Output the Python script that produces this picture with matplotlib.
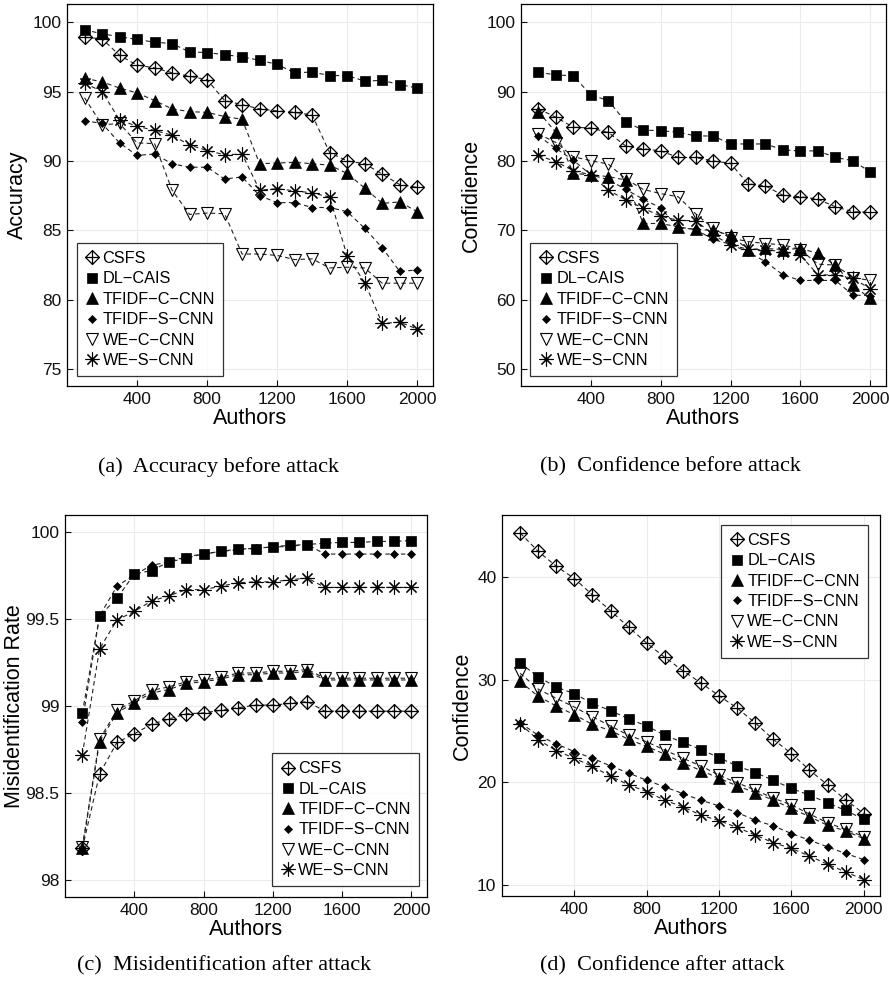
import matplotlib

matplotlib.use("Agg")

import matplotlib.pyplot as plt
import numpy as np
from matplotlib.lines import Line2D
from matplotlib.path import Path

# ---- data ----
authors = np.arange(100, 2001, 100)
series_names = ["CSFS", "DL\u2212CAIS", "TFIDF\u2212C\u2212CNN", "TFIDF\u2212S\u2212CNN",
                "WE\u2212C\u2212CNN", "WE\u2212S\u2212CNN"]

# (a) accuracy before attack
csfs_a = [98.9, 98.8, 97.6, 96.9, 96.7, 96.35, 96.1, 95.85, 94.35, 94.05,
          93.75, 93.6, 93.5, 93.3, 90.6, 90.0, 89.8, 89.05, 88.3, 88.1]
dl_a = [99.45, 99.15, 98.95, 98.75, 98.55, 98.45, 97.85, 97.8, 97.65, 97.5,
        97.25, 96.95, 96.35, 96.4, 96.15, 96.15, 95.75, 95.8, 95.5, 95.25]
tc_a = [95.95, 95.7, 95.25, 94.9, 94.35, 93.75, 93.55, 93.5, 93.2, 93.0,
        89.8, 89.85, 89.9, 89.8, 89.7, 89.1, 88.05, 86.95, 87.05, 86.35]
ts_a = [92.9, 92.7, 91.3, 90.4, 90.5, 89.8, 89.55, 89.55, 88.7, 88.85,
        87.5, 87.0, 87.0, 86.65, 86.65, 86.35, 85.15, 83.75, 82.05, 82.15]
wc_a = [94.55, 92.6, 92.7, 91.3, 91.25, 87.9, 86.15, 86.25, 86.2, 83.3,
        83.3, 83.2, 82.9, 82.95, 82.3, 82.35, 82.3, 81.2, 81.2, 81.2]
ws_a = [95.6, 95.0, 92.95, 92.5, 92.2, 91.85, 91.15, 90.75, 90.45, 90.5,
        87.9, 88.0, 87.85, 87.7, 87.4, 83.15, 81.25, 78.3, 78.4, 77.9]

# (b) confidence before attack
csfs_b = [87.5, 86.3, 84.85, 84.75, 84.1, 82.15, 81.75, 81.45, 80.5, 80.5,
          80.0, 79.65, 76.7, 76.4, 75.05, 74.85, 74.5, 73.4, 72.7, 72.6]
dl_b = [92.75, 92.4, 92.25, 89.5, 88.7, 85.6, 84.45, 84.35, 84.15, 83.6,
        83.6, 82.45, 82.45, 82.45, 81.6, 81.45, 81.45, 80.5, 80.05, 78.4]
tc_b = [87.1, 84.1, 78.2, 78.0, 77.75, 77.25, 71.0, 71.0, 70.5, 70.15,
        70.0, 69.3, 67.25, 67.4, 67.25, 67.4, 66.7, 65.0, 62.1, 60.2]
ts_b = [83.6, 81.8, 80.1, 78.0, 77.3, 75.9, 74.5, 73.25, 70.4, 70.15,
        68.7, 68.0, 66.9, 65.5, 63.6, 62.8, 62.8, 62.8, 60.7, 60.6]
wc_b = [83.9, 82.65, 80.6, 80.05, 79.55, 77.4, 75.9, 75.3, 74.85, 72.4,
        70.3, 68.9, 68.4, 68.1, 67.95, 67.2, 65.15, 65.0, 63.2, 62.8]
ws_b = [80.8, 79.9, 78.6, 78.0, 75.8, 74.4, 73.2, 72.05, 71.45, 71.4,
        69.4, 67.9, 67.3, 67.2, 66.95, 66.45, 63.6, 63.6, 63.1, 61.6]

# (c) misidentification rate after attack
csfs_c = [98.18, 98.61, 98.79, 98.84, 98.895, 98.925, 98.955, 98.96, 98.975, 98.99,
          99.005, 99.005, 99.015, 99.025, 98.97, 98.97, 98.97, 98.97, 98.97, 98.97]
dl_c = [98.96, 99.52, 99.62, 99.76, 99.78, 99.83, 99.85, 99.877, 99.89, 99.905,
        99.905, 99.918, 99.925, 99.93, 99.938, 99.942, 99.942, 99.948, 99.948, 99.953]
tc_c = [98.18, 98.795, 98.96, 99.02, 99.075, 99.095, 99.13, 99.14, 99.155, 99.18,
        99.18, 99.19, 99.19, 99.2, 99.15, 99.15, 99.15, 99.15, 99.15, 99.15]
ts_c = [98.91, 99.52, 99.69, 99.755, 99.81, 99.83, 99.86, 99.875, 99.89, 99.9,
        99.91, 99.915, 99.92, 99.93, 99.875, 99.875, 99.875, 99.875, 99.875, 99.875]
wc_c = [98.19, 98.81, 98.975, 99.03, 99.09, 99.11, 99.14, 99.15, 99.165, 99.19,
        99.19, 99.2, 99.2, 99.21, 99.16, 99.16, 99.16, 99.16, 99.16, 99.16]
ws_c = [98.72, 99.33, 99.495, 99.545, 99.605, 99.635, 99.67, 99.67, 99.69, 99.71,
        99.715, 99.715, 99.727, 99.737, 99.683, 99.683, 99.683, 99.683, 99.683, 99.683]

# (d) confidence after attack
csfs_d = [44.35, 42.55, 41.1, 39.9, 38.3, 36.75, 35.15, 33.6, 32.2, 30.9,
          29.7, 28.45, 27.25, 25.8, 24.2, 22.8, 21.2, 19.75, 18.3, 16.95]
dl_d = [31.65, 30.3, 29.3, 28.65, 27.7, 27.0, 26.2, 25.5, 24.6, 23.9,
        23.2, 22.4, 21.6, 20.95, 20.2, 19.4, 18.75, 18.0, 17.25, 16.4]
tc_d = [29.85, 28.4, 27.45, 26.6, 25.65, 25.05, 24.2, 23.5, 22.75, 21.9,
        21.15, 20.4, 19.65, 19.0, 18.25, 17.45, 16.65, 15.8, 15.25, 14.5]
ts_d = [25.8, 24.6, 23.75, 23.0, 22.35, 21.6, 20.9, 20.2, 19.55, 18.9,
        18.25, 17.7, 17.05, 16.3, 15.75, 15.0, 14.35, 13.7, 13.05, 12.45]
wc_d = [30.65, 29.1, 28.2, 27.35, 26.4, 25.5, 24.6, 23.95, 23.15, 22.35,
        21.6, 20.7, 19.95, 19.25, 18.45, 17.8, 16.9, 16.05, 15.4, 14.7]
ws_d = [25.7, 24.15, 23.1, 22.35, 21.55, 20.6, 19.75, 19.1, 18.25, 17.6,
        16.8, 16.25, 15.6, 14.85, 14.1, 13.55, 12.8, 12.0, 11.25, 10.5]

# ---- styling ----
plt.rcParams["font.family"] = ["Liberation Sans", "DejaVu Sans"]

# open diamond with a plus inside (CSFS)
diamond_plus = Path(
    [(0, 1), (1, 0), (0, -1), (-1, 0), (0, 1), (0, 1), (0, -1), (-1, 0), (1, 0)],
    [Path.MOVETO, Path.LINETO, Path.LINETO, Path.LINETO, Path.CLOSEPOLY,
     Path.MOVETO, Path.LINETO, Path.MOVETO, Path.LINETO],
)
styles = [
    dict(marker=diamond_plus, ms=10, mfc="none", mew=0.9),
    dict(marker="s", ms=7.5, mfc="k", mew=0.5),
    dict(marker="^", ms=8, mfc="k", mew=0.5),
    dict(marker="D", ms=4.3, mfc="k", mew=0.5),
    dict(marker="v", ms=8.5, mfc="none", mew=0.8),
    dict(marker=(8, 2, 0), ms=10, mfc="k", mew=0.8),
]

W, H = 889, 992
fig = plt.figure(figsize=(W / 100, H / 100), dpi=100)


def px_axes(left, top, right, bottom):
    return fig.add_axes([left / W, 1 - bottom / H, (right - left) / W, (bottom - top) / H])


def draw(ax, series, ylim, yticks, yticklabels, ylabel, leg_loc, leg_anchor, ylpad=3):
    for ys, st in zip(series, styles):
        ax.plot(authors, ys, ls="--", dashes=(4, 3), color="#222222", lw=0.8, zorder=2)
        ax.plot(authors, ys, ls="none", color="k", mec="k", zorder=3, **st)
    ax.set_xlim(0, 2090)
    ax.set_ylim(*ylim)
    ax.set_xticks([400, 800, 1200, 1600, 2000])
    ax.set_yticks(yticks)
    ax.set_yticklabels(yticklabels)
    ax.grid(True, color="#ebebeb", lw=0.8, zorder=0)
    ax.set_axisbelow(True)
    ax.tick_params(direction="in", length=4, width=0.8, labelsize=12.5, pad=4,
                   colors="#111111")
    for sp in ax.spines.values():
        sp.set_linewidth(0.9)
    ax.set_xlabel("Authors", fontsize=15.5, labelpad=1)
    ax.set_ylabel(ylabel, fontsize=15.5, labelpad=ylpad)
    handles = [Line2D([], [], ls="none", color="k", mec="k", **st) for st in styles]
    leg = ax.legend(handles, series_names, loc=leg_loc, bbox_to_anchor=leg_anchor,
                    fontsize=11.7, frameon=True, fancybox=False, edgecolor="k",
                    handlelength=0.9, handletextpad=0.2, labelspacing=0.33,
                    borderpad=0.5, borderaxespad=0)
    leg.get_frame().set_linewidth(0.9)
    leg.set_zorder(5)


ax_a = px_axes(67, 4, 433, 386)
draw(ax_a, [csfs_a, dl_a, tc_a, ts_a, wc_a, ws_a], (73.8, 101.3),
     [75, 80, 85, 90, 95, 100], ["75", "80", "85", "90", "95", "100"],
     "Accuracy", "lower left", (0.026, 0.026))

ax_b = px_axes(521, 4, 886, 386)
draw(ax_b, [csfs_b, dl_b, tc_b, ts_b, wc_b, ws_b], (47.6, 102.6),
     [50, 60, 70, 80, 90, 100], ["50", "60", "70", "80", "90", "100"],
     "Confidience", "lower left", (0.026, 0.026))

ax_c = px_axes(65, 515, 427, 897)
draw(ax_c, [csfs_c, dl_c, tc_c, ts_c, wc_c, ws_c], (97.9, 100.1),
     [98, 98.5, 99, 99.5, 100], ["98", "98.5", "99", "99.5", "100"],
     "Misidentification Rate", "lower right", (0.978, 0.028), ylpad=0.5)

ax_d = px_axes(502, 515, 880, 896)
draw(ax_d, [csfs_d, dl_d, tc_d, ts_d, wc_d, ws_d], (8.9, 46.1),
     [10, 20, 30, 40], ["10", "20", "30", "40"],
     "Confidence", "upper right", (0.968, 0.974))

captions = [
    ("(a)  Accuracy before attack", 218, 467),
    ("(b)  Confidence before attack", 670, 467),
    ("(c)  Misidentification after attack", 224, 966),
    ("(d)  Confidence after attack", 662, 966),
]
for txt, cx, cy in captions:
    fig.text(cx / W, 1 - cy / H, txt, ha="center", va="center", fontsize=16,
             family=["Liberation Serif", "DejaVu Serif"])

fig.savefig("out.png", dpi=100)
plt.close(fig)
